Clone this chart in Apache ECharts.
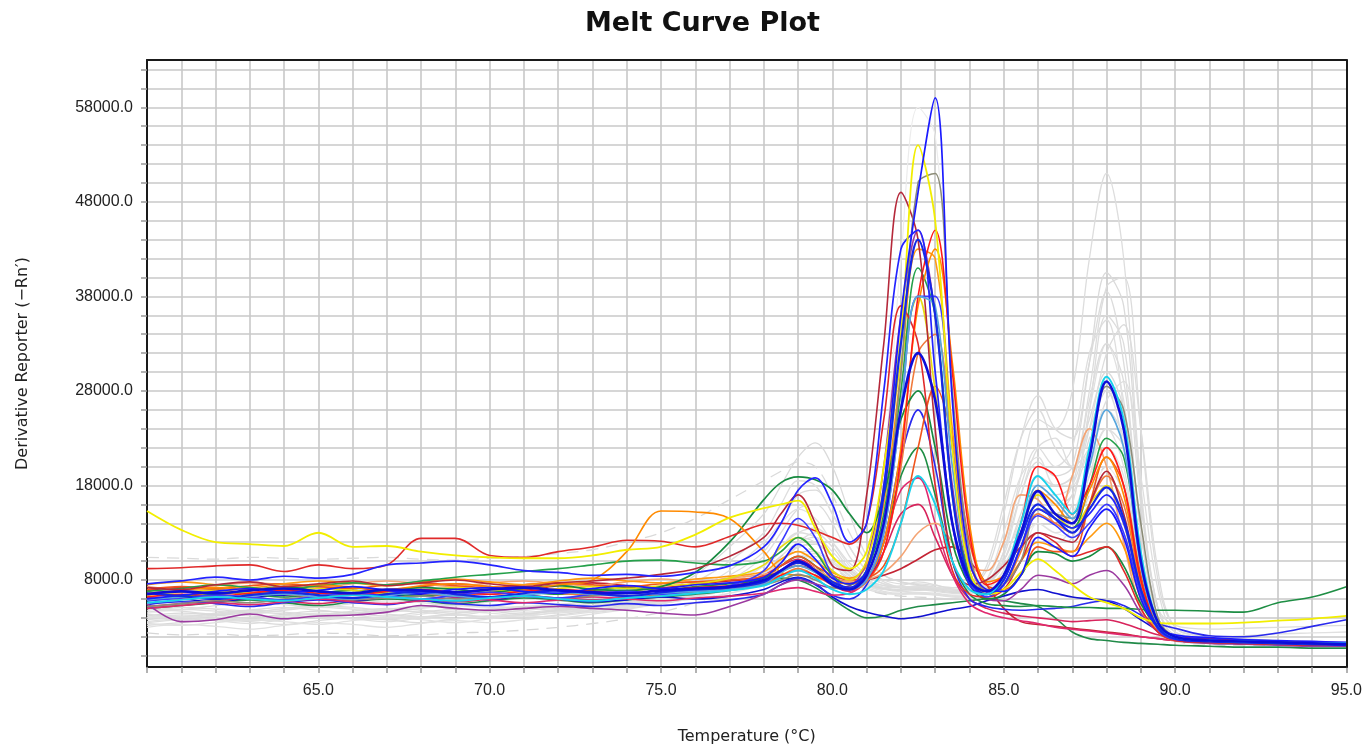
<!DOCTYPE html>
<html><head><meta charset="utf-8">
<script src="https://cdn.jsdelivr.net/npm/echarts@6/dist/echarts.min.js"></script>
<style>html,body{margin:0;padding:0;background:#fff}#chart{width:1365px;height:753px}</style>
</head><body><div id="chart"></div>
<script>
// Temperature sample points (°C)
const temperatures = [60,61,62,63,64,65,66,67,68,69,70,71,72,73,74,75,76,77,78,
  78.5,79,79.5,80,80.5,81,81.5,82,82.5,83,83.5,84,84.5,85,85.5,86,86.5,87,87.5,88,88.5,89,89.5,90,
  91,92,93,94,95];
const xTickLabels = [65,70,75,80,85,90,95];
const yTickLabels = [8000,18000,28000,38000,48000,58000];
const yGridValues = [0,2,4,6,8,10,12,14,16,18,20,22,24,26,28,30,32,34,36,38,40,42,44,46,48,50,52,54,56,58,60,62];

// Derivative reporter values, in thousands
// ---- grey (background) wells ----
const g01 = [4.5,4.8,5.0,4.7,4.9,5.2,5.0,4.8,5.1,5.3,5.0,5.2,5.5,5.3,5.6,5.9,6.3,7.0,8.0, 9.5,10.5,10,8.5,7.8,10,20,42,58,55,30,12,7,7.5,10,14,13,12.5,16,20,17,8,3,2, 1.7,1.6,1.5,1.5,1.4];
const g02 = [3.5,3.8,4.0,3.7,3.9,4.2,4.0,3.8,4.1,4.3,4.1,4.4,4.7,4.6,5.0,5.5,6.2,7.5,9.5, 11.5,13,12.5,10.5,8.5,7.5,7.2,7.4,7.8,7.5,7.0,6.8,7.5,11,19,25,24,28,42,51,42,18,5,2.5, 1.8,1.6,1.5,1.4,1.3];
const g03 = [4.2,4.0,4.3,4.6,4.4,4.1,4.5,4.8,4.6,4.3,4.7,5.0,4.8,5.1,5.5,5.9,6.5,7.4,8.6, 10,11.5,11.8,10.5,8.8,7.6,7.0,6.8,6.9,7.0,6.8,6.6,7.0,9,14,19,18,19,28,39,40,24,8,3, 2.0,1.8,1.6,1.5,1.4];
const g04 = [3.8,4.1,4.4,4.2,3.9,4.3,4.6,4.4,4.1,4.5,4.8,4.6,4.9,5.2,5.6,6.1,7.0,8.5,11, 14,17,17.5,15,11.5,9,8,7.6,7.6,7.4,7.2,7.4,9,15,23,27.5,24,23,31,38.5,31,13,4,2.2, 1.8,1.6,1.5,1.4,1.3];
const g05 = [4.6,4.9,4.7,4.4,4.8,5.1,4.9,4.6,5.0,5.3,5.1,4.8,5.2,5.5,5.3,5.7,6.2,7.0,8.2, 9.5,10.5,10.8,9.8,8.4,7.4,7.0,7.0,7.2,7.1,6.9,7.0,8,12,18,22,20,22,32,35.5,26,10,3.5,2.0, 1.7,1.6,1.5,1.4,1.3];
const g06 = [5.0,4.7,4.4,4.8,5.1,4.8,4.5,4.9,5.2,5.0,4.7,5.1,5.4,5.2,5.5,5.8,6.4,7.2,8.5, 10,12,13,11.5,9.2,8.0,7.4,7.2,7.4,7.2,7.0,6.8,7.2,9,13,17,17,18,24,32,35,24,9,3, 2.0,1.8,1.6,1.5,1.4];
const g07 = [4.0,4.3,4.1,3.8,4.2,4.5,4.3,4.0,4.4,4.7,4.5,4.2,4.6,4.9,5.2,5.6,6.0,6.6,7.6, 9,10,10,9,7.8,7.0,6.6,6.5,6.7,6.6,6.4,6.5,8,13,19,21,18,18,26,33,27,11,3.5,2.0, 1.7,1.5,1.4,1.3,1.3];
const g08 = [3.2,3.5,3.8,3.6,3.3,3.7,4.0,3.8,3.5,3.9,4.2,4.0,4.3,4.8,5.4,6.5,8.5,11.5,15, 18,21,22.5,20,15,10.5,8.5,7.8,7.5,7.2,7.0,6.8,7.4,10,15,19,18,19,25,30,26,11,3.5,1.8, 1.5,1.4,1.3,1.2,1.2];
const g09 = [4.4,4.1,4.5,4.8,4.6,4.3,4.7,5.0,4.8,4.5,4.9,5.2,5.0,5.3,5.7,6.0,6.8,8.0,10.5, 13,15.5,16,14,10.5,8.5,7.6,7.2,7.3,7.2,7.0,7.2,9.5,16,23,26,22,20,24,28,22,9,3,1.8, 1.5,1.4,1.3,1.2,1.2];
const g10 = [3.6,3.9,3.7,3.4,3.8,4.1,3.9,3.6,4.0,4.3,4.1,4.4,4.7,5.1,5.6,6.4,7.8,10,13, 16,18.5,18,15,11.5,9,7.8,7.2,7.0,6.8,6.6,6.6,7,9,13,16,15,17,22,26,23,10,3.2,1.8, 1.5,1.4,1.3,1.2,1.2];
const g11 = [4.8,5.1,4.9,4.6,5.0,5.3,5.1,4.8,5.2,5.5,5.3,5.0,5.4,5.7,5.5,5.9,6.4,7.2,8.6, 10.5,12,12.5,11,9,7.8,7.2,7.0,7.1,7.0,6.8,6.9,7.5,9.5,13,15,14,16,26,36,33,16,5,2.2, 1.8,1.6,1.5,1.4,1.3];
const g12 = [3.0,3.3,3.1,2.8,3.2,3.5,3.3,3.0,3.4,3.7,3.5,3.8,4.2,4.6,5.1,5.8,7.0,9.0,12, 14,15.5,14.5,12,9.5,8,7.2,6.8,6.6,6.5,6.3,6.2,6.6,8.5,12,15,14,15,20,24,20,8.5,3,1.6, 1.3,1.2,1.2,1.1,1.1];
const g13 = [2.4,2.2,2.3,2.1,2.2,2.4,2.3,2.1,2.2,2.4,2.5,2.7,3.0,3.4,3.9,4.6,5.6,7.0,9.0, 10.5,11.5,11,9.5,8,7,6.5,6.3,6.2,6.1,6.0,6.0,6.3,7.5,10,12,11.5,12.5,17,20,17,7.5,2.8,1.5, 1.2,1.1,1.1,1.0,1.0];
const g14 = [10.4,10.3,10.2,10.4,10.3,10.2,10.3,10.4,10.2,10.1,10.3,10.5,10.8,11.2,12,13,14.5,16.5,18.5, 19.5,20.5,20,17,13,10,8.5,7.8,7.5,7.2,7.0,7.0,7.5,10,14,17,16,17,23,28,24,10,3.5,2.0, 1.6,1.5,1.4,1.3,1.3];
const g15 = [4.0,4.1,3.9,4.0,4.2,4.0,3.9,4.1,4.0,3.9,4.1,4.3,4.5,4.8,5.2,5.7,6.4,7.4,8.8, 10,11,11,10,8.5,7.4,6.8,6.6,6.6,6.5,6.3,6.3,6.8,8.5,12,14,13,14,19,22,19,8,3,1.6, 1.3,1.2,1.2,1.1,1.1];
const g16 = [5.5,5.8,6.1,5.9,5.6,6.0,6.3,6.1,5.8,6.2,6.5,6.3,6.0,6.4,6.7,7.0,7.5,8.2,9.5, 11,12.5,12,10.5,9,8,7.4,7.2,7.2,7.1,7.0,7.0,7.6,10,14.5,17.5,16,18,27,33,29,13,5,3.2, 2.8,2.9,3.0,3.1,3.2];
const g17 = [4.2,4.5,4.3,4.0,4.4,4.7,4.5,4.2,4.6,4.9,4.7,4.4,4.8,5.1,5.4,5.8,6.3,7.1,8.4, 10,11.5,11.8,10.5,8.8,7.6,7.1,6.9,7.0,6.9,6.7,6.8,7.6,11,17,20.5,19,20,31,40.5,37,17,5,2.2, 1.8,1.6,1.5,1.4,1.3];
const g18 = [5.2,4.9,5.3,5.6,5.4,5.1,5.5,5.8,5.6,5.3,5.7,6.0,5.8,5.6,6.0,6.4,7.0,8.0,9.5, 11.5,13,13.5,12,9.8,8.4,7.6,7.3,7.3,7.2,7.0,7.0,7.6,10.5,17,22,23,20,22,27,29,19,7,2.5, 1.9,1.7,1.6,1.5,1.4];
const g19 = [3.4,3.2,3.5,3.8,3.6,3.3,3.7,4.0,3.8,3.5,3.9,4.2,4.0,4.4,4.9,5.5,6.2,7.2,8.5, 9.5,10.5,10.5,9.5,8.2,7.2,6.7,6.5,6.5,6.4,6.2,6.1,6.4,7.5,10,12.5,12,13.5,19,24,22,11,4.0,2.2, 2.0,2.1,2.3,2.4,2.5];

// ---- coloured wells ----
const c01 = [6.0,6.4,6.8,7.1,6.7,6.9,7.3,6.9,6.6,7.0,7.2,6.8,6.6,7.1,7.4,7.1,7.5,7.7,8.3, 9.8,11.8,10.2,8.2,7.6,9.0,18,36,49,59,27,10,7.0,6.8,8.5,12.5,11.5,10.5,13.5,15.5,12.5,6,3,2.2, 1.9,1.7,1.6,1.5,1.4];
const c02 = [15.3,13.3,12.0,11.8,11.6,13.0,11.5,11.6,11.0,10.6,10.4,10.3,10.3,10.6,11.2,11.5,12.8,14.6,15.6, 16.0,16.4,13.5,10.5,9.2,11,20,34,54,46,22,9,6.5,7.0,8.8,10.2,9.0,7.5,6.2,5.6,5.0,4.0,3.5,3.4, 3.4,3.5,3.7,3.9,4.2];
const c03 = [5.2,5.5,5.8,5.6,6.0,6.2,5.9,6.1,6.3,6.0,6.2,6.4,6.1,6.3,6.6,6.4,6.8,7.0,7.5, 8.0,8.6,8.0,7.2,7.0,8.5,14,30,50,51,28,11,6.8,7.5,10,15.5,15,14.5,21,28.5,26,14,4,2, 1.6,1.4,1.3,1.2,1.2];
const c04 = [7.2,7.0,7.5,7.8,7.3,7.6,7.9,7.4,7.7,8.0,7.6,7.3,7.7,7.9,8.2,8.6,9.2,10.5,12.5, 15,17,14,9.5,9.0,17,33,49,44,24,10,7.5,8,9.5,11.5,13,12.5,12,16,19.5,15,7,3,2, 1.8,1.6,1.5,1.4,1.3];
const c05 = [6.5,6.8,6.6,6.9,7.1,6.8,6.6,7.0,6.9,6.7,7.0,7.2,6.9,6.7,6.6,6.9,7.1,7.3,8.0, 9.0,10,9.0,7.5,7.0,8.5,14,26,32,27,14,8,6.8,8.5,13,17.4,15,14,21,29,24,10,3.5,2.0, 1.6,1.5,1.4,1.3,1.2];
const c06 = [6.2,6.5,6.3,6.6,6.9,6.6,6.4,6.8,7.0,6.7,6.5,6.8,7.0,6.8,6.6,6.9,7.2,7.4,7.8, 8.5,9.0,8.5,7.6,7.2,8.0,11,21,38,45,30,13,7.5,8.5,14,20,19,15,18,22,18,8,3,1.8, 1.5,1.4,1.3,1.3,1.2];
const c07 = [6.6,6.9,7.2,7.0,7.3,7.5,7.2,7.0,7.4,7.6,7.3,7.1,7.5,8.0,11.0,15.3,15.2,14.5,11.0, 8.8,8.5,8.3,7.8,7.6,8.2,12,22,37,43,31,14,7.8,8.5,13,17.5,16,14,17.5,21,17,8,3,1.8, 1.6,1.4,1.3,1.2,1.1];
const c08 = [5.5,3.6,3.8,4.4,3.9,4.2,4.3,4.6,5.3,5.0,4.8,5.0,5.2,5.0,4.8,4.5,4.3,5.2,6.5, 7.5,8.0,7.6,7.2,7.4,10,20,36,45,36,18,8.5,6.0,5.8,7.0,8.5,8.2,7.6,8.5,9.0,7.5,4.5,2.5,1.6, 1.3,1.2,1.1,1.0,1.0];
const c09 = [9.2,9.3,9.5,9.6,8.9,9.6,9.2,9.6,12.4,12.4,10.6,10.4,11.0,11.5,12.2,12.1,11.5,12.6,13.9, 14.0,13.8,13.2,12.5,11.8,14,25,37,33,18,9,6.5,6.2,7,10,13,12,10.5,11,11.5,9,5,2.5,1.6, 1.4,1.3,1.2,1.1,1.1];
const c10 = [7.6,7.9,8.3,8.0,8.4,8.2,8.6,9.6,9.8,10.0,9.6,9.0,8.8,8.5,8.6,8.4,8.8,9.5,11.5, 14,17.5,18.8,16,12,14,28,43,45,30,14,7.5,6.5,7.5,11.5,15.5,14.5,13.5,15,17,14,7,3.0,2.0, 1.7,1.5,1.4,1.3,1.2];
const c11 = [5.8,6.2,6.5,6.9,7.3,6.8,6.5,6.9,7.2,7.0,6.7,7.1,7.4,7.0,6.9,7.3,8.8,12.0,16.5, 18.3,18.9,18.6,17.5,15.0,13,17,25,28,22,12,7.5,6.0,6.5,8.5,11,10.8,10,10.5,11.5,9.5,5.5,3.0,2.0, 1.6,1.4,1.3,1.2,1.1];
const c12 = [5.6,5.9,6.2,6.0,5.8,6.1,6.4,6.2,6.0,5.8,6.1,6.3,6.0,5.8,6.1,6.3,6.6,6.9,7.4, 8.3,9.0,8.2,7.0,6.5,7.0,9.0,14,19,16,10,7.0,6.5,8.5,14,19,17,15,22,29.5,25,11,3.5,2.0, 1.6,1.5,1.4,1.3,1.3];
const c13 = [7.0,7.3,7.1,7.4,7.6,7.3,7.1,7.5,7.7,7.4,7.2,7.5,7.7,7.5,7.3,7.6,7.8,8.0,8.4, 9.5,10.5,9.5,8.5,8.0,8.2,9.5,14,22,28.5,23,12,7.5,7.0,8.5,11.5,11,11,16,21,18,8.5,3.0,1.6, 1.4,1.3,1.2,1.1,1.0];
const c14 = [5.0,5.3,5.6,5.4,5.7,6.0,5.7,5.5,5.8,6.1,5.9,5.6,5.9,6.2,6.0,5.8,6.1,6.3,6.6, 7.0,7.2,6.8,6.4,6.6,8,12,17.5,18.8,14,8.5,5.5,4.5,4.0,3.7,3.4,3.0,2.8,2.6,2.4,2.2,2.0,1.8,1.6, 1.4,1.3,1.3,1.2,1.2];
const c15 = [5.9,6.2,6.0,6.3,6.5,6.2,6.0,6.4,6.6,6.3,6.1,6.4,6.7,6.5,6.3,6.6,6.8,7.0,7.6, 8.8,9.5,8.8,7.6,7.0,8,13,26,38,37,20,9,6.5,8,13,18,16.5,14.5,20,26,22,9.5,3.2,1.9, 1.6,1.5,1.4,1.3,1.2];
const c16 = [6.8,7.1,7.5,7.2,7.0,7.4,7.7,7.5,7.9,8.3,8.6,8.9,9.2,9.6,10.0,10.1,9.8,9.6,10.0, 11,12.5,11,8.5,7.5,9,15,28,41,36,17,8.5,6.8,7.5,11.5,15.5,14.5,13.5,18,23,21,10,3.5,2.0, 1.7,1.5,1.4,1.3,1.2];
const c17 = [7.3,7.0,7.4,7.7,7.5,7.2,7.6,7.9,7.6,7.3,7.7,7.9,7.6,7.4,7.8,8.1,7.8,8.2,8.6, 9.0,9.8,9.2,8.2,7.8,8.0,8.8,10.5,13.0,14.0,12.0,9.5,9.0,12,17,16.5,14,19,24,20,12,5,2.5,1.6, 1.4,1.3,1.2,1.2,1.1];
const c18 = [6.3,6.0,6.4,6.7,6.5,6.2,6.6,6.9,6.6,6.3,6.7,6.9,6.6,6.4,6.8,7.1,6.8,7.2,7.6, 8.5,9.2,8.5,7.5,7.0,7.8,11,20,32,34,22,10,6.8,7.5,11,15,14,13,16,19,16,7.5,2.8,1.6, 1.4,1.3,1.2,1.1,1.1];
const c19 = [6.0,6.3,6.7,6.5,6.2,6.6,6.9,6.6,6.3,6.7,7.0,6.8,6.5,6.9,7.2,6.9,7.3,7.6,8.2, 9.5,10.5,9.5,7.8,7.0,8,12,19,22,17,10,6.5,5.5,5.3,5.2,5.3,5.2,5.1,5.1,5.0,5.0,4.9,4.8,4.8, 4.7,4.6,5.6,6.2,7.3];
const c20 = [5.4,5.7,5.5,5.2,5.6,5.9,5.6,5.4,5.8,5.5,5.3,5.6,5.4,5.2,5.5,5.3,5.6,5.9,6.5, 7.5,8.2,7.5,6.4,6.0,7.5,12,21,26,20,10,6.0,5.2,4.9,4.8,4.9,5.0,5.2,5.6,5.8,5.3,4.3,3.4,2.9, 2.1,2.0,2.4,3.1,3.8];
const c21 = [6.4,6.7,6.9,6.6,6.8,7.1,6.9,6.6,6.9,7.2,7.0,6.8,7.1,7.3,7.1,7.4,7.6,8.2,9.6, 11.5,12.5,11,9.0,8.0,10,18,31,38,28,14,8,6.5,8,13,17,15,13.5,16,18,14,7,3,1.8, 1.5,1.4,1.3,1.3,1.2];
const c22 = [6.9,7.2,7.0,6.7,7.1,7.4,7.2,6.9,7.3,7.6,7.3,7.0,7.4,7.7,7.4,7.2,7.6,7.9,8.3, 9.0,9.5,9.0,8.2,7.8,8.0,8.5,9.2,10.2,11.2,11.5,10.0,7.5,5.0,3.6,3.3,3.1,2.9,2.7,2.5,2.3,2.0,1.8,1.6, 1.4,1.3,1.2,1.2,1.1];
const c23 = [5.2,5.5,5.8,6.1,5.8,5.5,5.9,6.2,6.0,5.7,6.0,6.3,6.1,5.9,6.2,6.5,6.8,7.2,8.5, 9.5,10.2,9.2,7.5,6.8,8,11,15,16,12.5,8.5,6.0,5.0,4.5,4.2,4.0,3.8,3.6,3.7,3.8,3.4,2.8,2.2,1.8, 1.5,1.4,1.3,1.2,1.1];
const c24 = [6.2,6.0,5.7,6.1,6.4,6.1,5.8,6.2,6.5,6.2,5.9,6.3,6.0,5.7,5.9,6.2,6.0,6.3,7.0, 7.8,8.3,7.6,6.2,5.2,4.6,4.2,3.9,4.1,4.5,4.9,5.2,5.8,6.3,6.8,7.0,6.6,6.2,6.0,5.8,5.0,3.8,2.7,2.0, 1.7,1.5,1.4,1.3,1.2];
const c25 = [5.0,5.3,5.6,5.9,5.6,5.3,5.7,6.0,5.8,5.5,5.8,6.1,5.9,5.6,5.9,6.2,6.5,6.9,7.5, 8.2,8.0,7.2,6.0,4.8,4.0,4.2,4.8,5.2,5.4,5.6,5.8,6.0,5.8,5.5,5.2,4.0,2.5,1.8,1.6,1.4,1.3,1.2,1.1, 1.0,0.9,0.9,0.8,0.8];
const c26 = [6.6,6.3,6.0,6.4,6.7,6.4,6.1,6.5,6.8,6.5,6.2,6.6,6.9,6.6,6.3,6.7,7.0,7.2,7.8, 9.0,9.8,9.0,7.8,7.2,9,17,33,44,36,17,8,6.5,8,12.5,16,14.5,13,15.5,17.8,14.5,7,3,1.8, 1.5,1.4,1.3,1.2,1.1];
const c27 = [5.8,6.1,6.4,6.2,5.9,6.3,6.6,6.3,6.0,6.4,6.7,6.4,6.1,6.5,6.8,6.5,6.9,7.4,9.0, 12,14.5,12.5,8.5,7.0,8,13,26,38,38,22,9,6.2,7.5,11.5,14.8,13.8,12.5,14,16,13,6.5,2.8,1.7, 1.5,1.4,1.3,1.3,1.2];
const c28 = [7.5,7.8,7.5,7.2,7.6,7.9,7.7,7.4,7.8,8.1,7.8,7.5,7.9,8.2,7.9,7.7,8.1,8.4,8.9, 10.2,11,10,8.8,8.2,9.5,16,30,43,42,24,10,7,7.5,10,12,11.5,11,12.5,14,11.5,6,2.5,1.6, 1.4,1.3,1.2,1.1,1.0];

// Styles (kept separate from the values)
const greyStyles = [
  [g01,'#ececec',1.2],[g02,'#dddddd',1.3],[g03,'#dcdcdc',1.3],[g04,'#dcdcdc',1.3],[g05,'#dedede',1.3],
  [g06,'#dcdcdc',1.3],[g07,'#e0e0e0',1.3],[g08,'#dadada',1.3],[g09,'#dcdcdc',1.3],[g10,'#dedede',1.3],
  [g11,'#dcdcdc',1.3],[g12,'#e0e0e0',1.3],[g13,'#d6d6d6',1.3,[12,8]],[g14,'#dadada',1.3,[12,8]],[g15,'#e0e0e0',1.3],
  [g16,'#dcdcdc',1.3],[g17,'#dadada',1.3],[g18,'#dedede',1.3],[g19,'#e0e0e0',1.3]
];
const colourStyles = [
  [c25,'#208a48',1.6],[c24,'#1010d0',1.6],[c23,'#d8245c',1.6],[c22,'#c42434',1.6],[c20,'#2a2aee',1.6],
  [c19,'#1e8e44',1.6],[c14,'#e0286e',1.6],[c17,'#f4a474',1.6],[c18,'#f07a3c',1.6],[c13,'#f0541c',1.6],
  [c28,'#ff9a10',1.6],[c08,'#9b3aa0',1.6],[c21,'#e8dc10',1.6],[c16,'#24a04a',1.6],[c11,'#178a40',1.7],
  [c09,'#e02a2a',1.6],[c07,'#ff8a00',1.6],[c06,'#ff1a1a',1.6],[c04,'#b5283a',1.6],[c03,'#8c8c78',1.6],
  [c27,'#3a3aff',1.6],[c10,'#2424ff',1.7],[c15,'#58a6dc',1.7],[c02,'#f2ee00',1.8],[c01,'#1a1aff',1.7],
  [c26,'#1428e6',2.2],[c12,'#18d2ec',1.9],[c05,'#0d0dd9',2.6]
];

function makeSeries(entry, z) {
  const vals = entry[0];
  return {
    type: 'line', z: z, silent: true, showSymbol: false, smooth: 0.35, animation: false,
    xAxisIndex: 0, yAxisIndex: 0,
    data: temperatures.map((t, i) => [t, vals[i]]),
    lineStyle: { color: entry[1], width: entry[2], type: entry[3] || 'solid' }
  };
}
const series = [];
greyStyles.forEach(e => series.push(makeSeries(e, 2)));
colourStyles.forEach(e => series.push(makeSeries(e, 3)));

const axisFont = { fontFamily: 'Liberation Sans', fontSize: 16, color: '#222' };
const frameLine = { show: true, onZero: false, lineStyle: { color: '#1a1a1a', width: 2 } };
const chart = echarts.init(document.getElementById('chart'), null, { renderer: 'canvas' });
chart.setOption({
  backgroundColor: '#ffffff',
  animation: false,
  title: {
    text: 'Melt Curve Plot', left: 580, top: 5,
    textStyle: { fontFamily: 'DejaVu Sans', fontWeight: 'bold', fontSize: 27, color: '#111' }
  },
  grid: { left: 147, right: 17, top: 60, bottom: 86, show: false },
  xAxis: [{
    type: 'value', min: 60, max: 95, interval: 1,
    name: 'Temperature (°C)', nameLocation: 'middle', nameGap: 62,
    nameTextStyle: { fontFamily: 'DejaVu Sans', fontSize: 16, color: '#222' },
    axisLine: frameLine,
    axisTick: { show: true, inside: false, length: 6, lineStyle: { color: '#999', width: 1.5 } },
    axisLabel: Object.assign({ margin: 16, showMinLabel: true, showMaxLabel: true,
      formatter: v => { const m = xTickLabels.find(l => Math.abs(l - v) < 1e-6); return m !== undefined ? m.toFixed(1) : ''; } }, axisFont),
    splitLine: { show: true, lineStyle: { color: '#c8c8c8', width: 1.6 } }
  }, {
    type: 'value', min: 60, max: 95, position: 'top', z: 10,
    axisLine: frameLine, axisTick: { show: false }, axisLabel: { show: false }, splitLine: { show: false }
  }],
  yAxis: [{
    type: 'value', min: -1.2, max: 63,
    name: 'Derivative Reporter (\u2212Rn\u2032)', nameLocation: 'middle', nameGap: 116,
    nameTextStyle: { fontFamily: 'DejaVu Sans', fontSize: 16, color: '#222' },
    axisLine: frameLine,
    axisTick: { show: true, inside: false, length: 6, customValues: yGridValues, lineStyle: { color: '#999', width: 1.5 } },
    axisLabel: Object.assign({ margin: 14, customValues: yTickLabels.map(l => l / 1000),
      formatter: v => (v * 1000).toFixed(1) }, axisFont),
    splitLine: { show: true, lineStyle: { color: '#c8c8c8', width: 1.6 } }
  }, {
    type: 'value', min: -1.2, max: 63, position: 'right', z: 10,
    axisLine: frameLine, axisTick: { show: false }, axisLabel: { show: false }, splitLine: { show: false }
  }],
  series: series
});
</script>
</body></html>
